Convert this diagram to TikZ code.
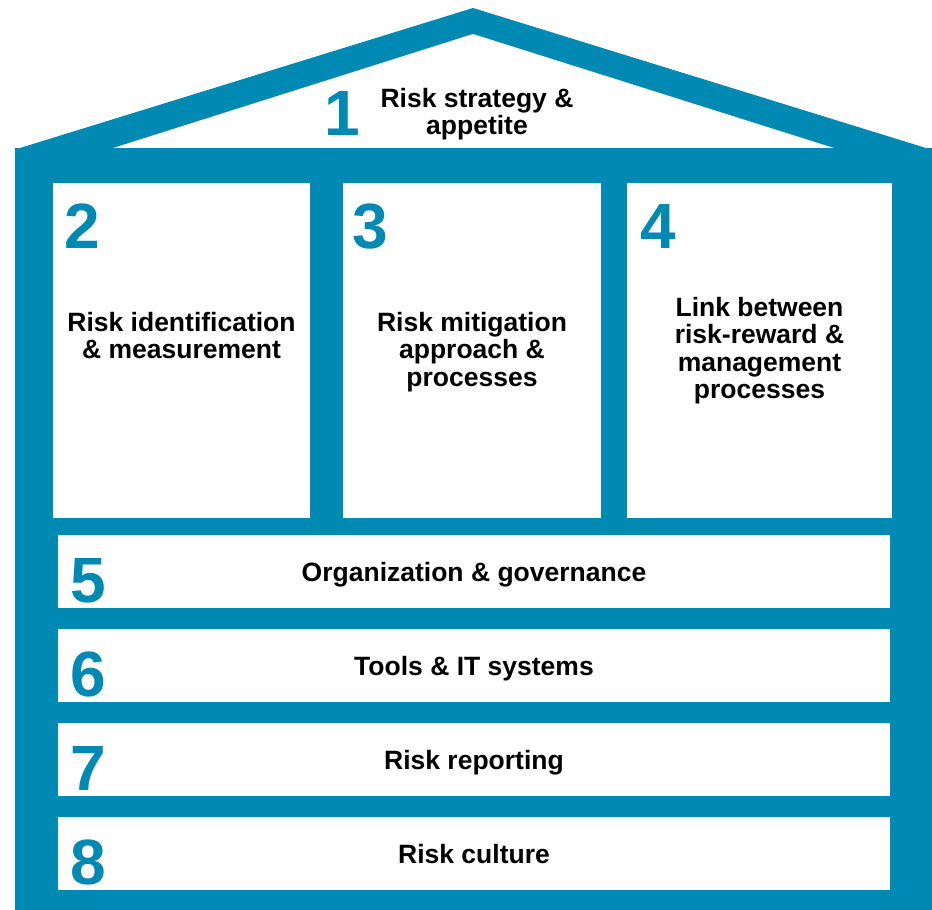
\documentclass[tikz,border=0pt]{standalone}
\usepackage{fontspec}
\setmainfont{Liberation Sans}
\usepackage{tikz}
\usetikzlibrary{calc,positioning}
\definecolor{HouseBlue}{RGB}{0,137,178}

\tikzset{
  room/.style={fill=white,inner sep=0pt,outer sep=0pt,anchor=north west,minimum height=167.5pt},
  band/.style={fill=white,inner sep=0pt,outer sep=0pt,anchor=north west,minimum width=416pt,minimum height=36.5pt},
  tag/.style={text=HouseBlue,font=\fontsize{32}{33}\selectfont\bfseries,inner sep=0pt,anchor=base west},
  caption/.style={font=\fontsize{13.25}{13.65}\selectfont\bfseries,align=center,inner sep=0pt},
}

\begin{document}
\begin{tikzpicture}[x=0.5pt,y=-0.5pt]
  \useasboundingbox (0,0) rectangle (932,910);
  % roof
  \fill[HouseBlue] (20,148) -- (473,8) -- (926,148) -- cycle;
  \fill[white] (110,149) -- (473,34) -- (837,149) -- cycle;
  \node[tag,anchor=base] (n1) at (342,135) {1};
  \node[caption,anchor=north] (t1) at (477,88) {Risk strategy \&\\appetite};
  % walls
  \fill[HouseBlue] (15,148) rectangle (932,910);
  % pillars
  \node[room,minimum width=128.5pt] (b2) at (53,183) {};
  \node[room,minimum width=129pt] (b3) at (343,183) {};
  \node[room,minimum width=132.5pt] (b4) at (627,183) {};
  \node[tag] (n2) at ($(b2.north west)+(11,65)$) {2};
  \node[tag] (n3) at ($(b3.north west)+(9,65)$) {3};
  \node[tag] (n4) at ($(b4.north west)+(13,65)$) {4};
  \node[caption,anchor=north] (t2) at ($(b2.north)+(0,129)$) {Risk identification\\\& measurement};
  \node[caption,anchor=north] (t3) at ($(b3.north)+(0,129)$) {Risk mitigation\\approach \&\\processes};
  \node[caption,anchor=north] (t4) at ($(b4.north)+(0,114)$) {Link between\\risk-reward \&\\management\\processes};
  % foundation
  \foreach \n/\top/\txt in {5/535/Organization \& governance,6/629/Tools \& IT systems,
                            7/723/Risk reporting,8/817/Risk culture}{
    \node[band] (r\n) at (58,\top) {};
    \node[tag] (n\n) at ($(r\n.south west)+(12,-6)$) {\n};
    \node[caption,anchor=base] (t\n) at ($(r\n.north)+(0,46)$) {\txt};
  }
\end{tikzpicture}
\end{document}
